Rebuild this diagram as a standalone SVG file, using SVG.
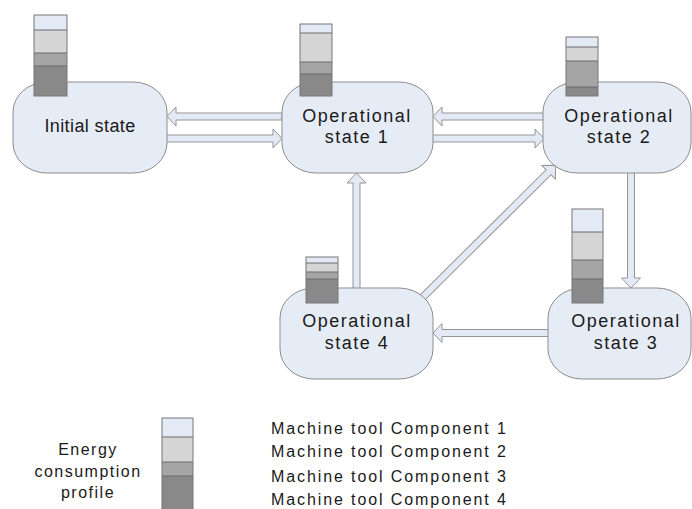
<svg xmlns="http://www.w3.org/2000/svg" width="692" height="509" viewBox="0 0 692 509">
<style>
.node{fill:#E6ECF6;stroke:#8C8C8C;stroke-width:1}
.arr{fill:#E4EAF5;stroke:#959595;stroke-width:1;stroke-linejoin:miter}
.s1{fill:#E3EAF6}
.s2{fill:#D5D5D5}
.s3{fill:#A5A5A5}
.s4{fill:#898989}
.sep{stroke:#6A6A6A;stroke-width:1}
.frame{fill:none;stroke:#777;stroke-width:1}
.lbl{font-family:"Liberation Sans",Arial,sans-serif;font-size:18px;letter-spacing:1.5px;fill:#1a1a1a;text-anchor:middle}
.leg{font-family:"Liberation Sans",Arial,sans-serif;font-size:16px;letter-spacing:1.9px;fill:#1a1a1a}
.legc{font-family:"Liberation Sans",Arial,sans-serif;font-size:16px;letter-spacing:1.5px;fill:#1a1a1a;text-anchor:middle}
</style>
<rect width="692" height="509" fill="#fff"/>
<g id="connectors">
<path class="arr" d="M282,113 L176,113 L176,107 L167,116.5 L176,126 L176,120 L282,120 Z"/>
<path class="arr" d="M160,135 L273,135 L273,129 L282,138.5 L273,148 L273,142 L160,142 Z"/>
<path class="arr" d="M550,113 L442,113 L442,107 L433,116.5 L442,126 L442,120 L550,120 Z"/>
<path class="arr" d="M425,135 L535,135 L535,129 L544,138.5 L535,148 L535,142 L425,142 Z"/>
<path class="arr" d="M627.5,165 L627.5,278 L621.5,278 L631,288 L640.5,278 L634.5,278 L634.5,165 Z"/>
<path class="arr" d="M353,295 L353,183 L347,183 L356.5,173 L366,183 L360,183 L360,295 Z"/>
<path class="arr" d="M555,329.5 L442,329.5 L442,323.5 L433,333 L442,342.5 L442,336.5 L555,336.5 Z"/>
<path class="arr" transform="translate(423,297) rotate(-44.8)" d="M-4,-3.5 L177,-3.5 L177,-9.5 L187,0 L177,9.5 L177,3.5 L-4,3.5 Z"/>
</g>
<g id="initial-state">
<rect class="node" x="13" y="82" width="154" height="91" rx="34" ry="30"/>
<rect class="s1" x="34" y="15" width="33" height="15"/>
<rect class="s2" x="34" y="30" width="33" height="23"/>
<rect class="s3" x="34" y="53" width="33" height="13"/>
<rect class="s4" x="34" y="66" width="33" height="30"/>
<path class="sep" d="M34,30H67M34,53H67M34,66H67"/>
<rect class="frame" x="34" y="15" width="33" height="81"/>
<text class="lbl" x="90" y="132" style="letter-spacing:0.4px">Initial state</text>
</g>
<g id="operational-state-1">
<rect class="node" x="282" y="82" width="151" height="91" rx="34" ry="30"/>
<rect class="s1" x="300" y="24" width="32" height="9"/>
<rect class="s2" x="300" y="33" width="32" height="29"/>
<rect class="s3" x="300" y="62" width="32" height="12"/>
<rect class="s4" x="300" y="74" width="32" height="22"/>
<path class="sep" d="M300,33H332M300,62H332M300,74H332"/>
<rect class="frame" x="300" y="24" width="32" height="72"/>
<text class="lbl" x="357" y="122">Operational</text>
<text class="lbl" x="357" y="143">state 1</text>
</g>
<g id="operational-state-2">
<rect class="node" x="543" y="82" width="148" height="91" rx="34" ry="30"/>
<rect class="s1" x="566" y="37" width="32" height="10"/>
<rect class="s2" x="566" y="47" width="32" height="14"/>
<rect class="s3" x="566" y="61" width="32" height="26"/>
<rect class="s4" x="566" y="87" width="32" height="9"/>
<path class="sep" d="M566,47H598M566,61H598M566,87H598"/>
<rect class="frame" x="566" y="37" width="32" height="59"/>
<text class="lbl" x="619" y="122">Operational</text>
<text class="lbl" x="619" y="143">state 2</text>
</g>
<g id="operational-state-3">
<rect class="node" x="548" y="288" width="143" height="91" rx="34" ry="30"/>
<rect class="s1" x="572" y="209" width="31" height="23"/>
<rect class="s2" x="572" y="232" width="31" height="28"/>
<rect class="s3" x="572" y="260" width="31" height="19"/>
<rect class="s4" x="572" y="279" width="31" height="24"/>
<path class="sep" d="M572,232H603M572,260H603M572,279H603"/>
<rect class="frame" x="572" y="209" width="31" height="94"/>
<text class="lbl" x="626" y="327">Operational</text>
<text class="lbl" x="626" y="349">state 3</text>
</g>
<g id="operational-state-4">
<rect class="node" x="280" y="288" width="153" height="91" rx="34" ry="30"/>
<rect class="s1" x="306" y="257" width="32" height="6"/>
<rect class="s2" x="306" y="263" width="32" height="9"/>
<rect class="s3" x="306" y="272" width="32" height="7"/>
<rect class="s4" x="306" y="279" width="32" height="24"/>
<path class="sep" d="M306,263H338M306,272H338M306,279H338"/>
<rect class="frame" x="306" y="257" width="32" height="46"/>
<text class="lbl" x="357" y="327">Operational</text>
<text class="lbl" x="357" y="349">state 4</text>
</g>
<g id="legend">
<text class="legc" x="88" y="455">Energy</text>
<text class="legc" x="88" y="477">consumption</text>
<text class="legc" x="88" y="498">profile</text>
<rect class="s1" x="162" y="418" width="31" height="19"/>
<rect class="s2" x="162" y="437" width="31" height="25"/>
<rect class="s3" x="162" y="462" width="31" height="14"/>
<rect class="s4" x="162" y="476" width="31" height="34"/>
<path class="sep" d="M162,437H193M162,462H193M162,476H193"/>
<rect class="frame" x="162" y="418" width="31" height="92"/>
<text class="leg" x="271" y="434">Machine tool Component 1</text>
<text class="leg" x="271" y="457">Machine tool Component 2</text>
<text class="leg" x="271" y="482">Machine tool Component 3</text>
<text class="leg" x="271" y="505">Machine tool Component 4</text>
</g>
</svg>
